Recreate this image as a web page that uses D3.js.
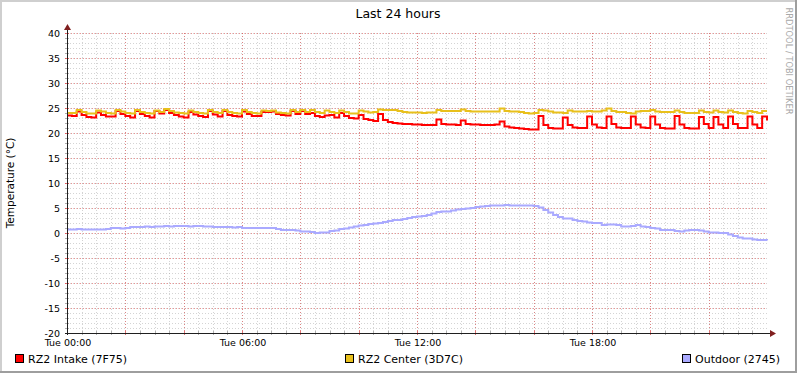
<!DOCTYPE html>
<html>
<head>
<meta charset="utf-8">
<script src="https://cdn.jsdelivr.net/npm/d3@7"></script>
<style>
  body { margin: 0; background: #fff; }
  text { font-family: "DejaVu Sans", sans-serif; }
</style>
</head>
<body>
<div id="canvas"></div>
<script>
// samples every 10 minutes, Tue 00:00 .. Wed 00:00
const stepMinutes = 10;
const startTime = new Date(2024, 0, 2, 0, 0);

const seriesNames = ["RZ2 Intake (7F75)", "RZ2 Center (3D7C)", "Outdoor (2745)"];

const intake = [23.5,23.4,24.3,23.6,23.2,23.1,24.1,23.6,23.3,23.3,
  24.4,23.8,23.4,23.1,24.4,23.8,23.4,23.1,24.4,23.9,
  24.6,24.0,23.6,23.3,23.1,24.2,23.7,23.4,23.2,24.4,
  23.7,23.3,24.4,23.6,23.4,23.3,24.3,23.8,23.4,23.4,
  24.2,24.2,24.3,23.8,23.6,23.5,24.4,23.8,24.4,23.8,
  24.0,23.4,23.2,23.5,23.6,23.1,24.0,23.4,23.0,22.9,
  23.6,22.8,22.6,22.4,23.8,22.6,22.2,22.0,21.9,21.8,
  21.8,21.7,21.7,21.6,21.6,21.6,22.7,21.8,21.7,21.7,
  21.6,22.5,21.8,21.7,21.7,21.6,21.6,21.6,21.7,22.3,
  21.3,21.1,21.0,20.9,20.8,20.7,20.7,23.4,21.6,21.0,
  20.9,20.9,23.1,21.6,21.1,21.0,21.0,23.3,21.7,21.1,
  21.0,23.3,21.8,21.1,21.0,21.0,23.3,21.7,21.1,21.0,
  23.3,21.7,21.0,20.9,20.9,23.4,21.7,21.0,20.9,20.9,
  23.2,21.8,21.0,23.2,21.7,21.0,23.3,21.8,21.0,21.0,
  23.3,21.7,21.0,23.3,22.5];

const center = [24.0,24.0,24.6,24.2,23.9,23.9,24.5,24.3,24.0,23.9,
  24.6,24.3,24.0,23.9,24.6,24.2,24.0,23.9,24.5,24.2,
  24.8,24.4,24.1,24.0,23.9,24.5,24.2,24.0,23.9,24.6,
  24.2,24.0,24.6,24.2,24.0,23.9,24.6,24.2,24.0,23.9,
  24.5,24.4,24.5,24.1,24.0,23.9,24.6,24.2,24.6,24.2,
  24.6,24.2,24.0,24.5,24.2,24.0,24.5,24.2,23.9,23.9,
  24.5,24.3,24.1,24.2,24.7,24.6,24.6,24.6,24.4,24.2,
  24.1,24.1,24.1,24.0,24.1,24.1,24.6,24.4,24.4,24.4,
  24.4,24.7,24.4,24.3,24.3,24.3,24.3,24.3,24.3,24.9,
  24.4,24.3,24.3,24.2,24.0,23.9,24.0,24.6,24.5,24.3,
  24.1,24.1,24.0,24.5,24.3,24.3,24.3,24.4,24.3,24.3,
  24.5,24.9,24.4,24.2,24.2,24.0,23.9,24.3,24.4,24.4,
  24.6,24.3,24.2,24.2,24.2,24.5,24.2,24.0,24.0,24.0,
  24.5,24.2,24.1,24.5,24.2,24.1,24.5,24.2,24.0,23.9,
  24.4,24.2,24.0,24.4,24.4];

const outdoor = [0.7,0.7,0.8,0.7,0.7,0.7,0.7,0.7,0.8,1.0,
  1.0,0.9,1.0,1.2,1.2,1.2,1.3,1.2,1.3,1.3,
  1.4,1.3,1.4,1.4,1.4,1.3,1.4,1.4,1.3,1.3,
  1.2,1.2,1.2,1.2,1.1,1.2,1.0,1.0,1.0,1.0,
  1.0,1.0,1.0,0.8,0.6,0.6,0.6,0.5,0.3,0.3,
  0.2,0.0,0.1,0.1,0.4,0.5,0.8,0.9,1.1,1.3,
  1.5,1.6,1.8,1.9,2.0,2.2,2.4,2.6,2.6,2.8,
  3.0,3.2,3.3,3.4,3.6,3.9,4.2,4.3,4.3,4.5,
  4.7,4.8,4.9,5.0,5.2,5.3,5.4,5.5,5.5,5.5,
  5.6,5.5,5.5,5.5,5.5,5.5,5.4,5.1,4.6,4.1,
  3.6,3.2,2.9,2.9,2.6,2.4,2.3,2.1,2.0,2.0,
  1.6,1.7,1.7,1.6,1.3,1.3,1.4,1.6,1.3,1.2,
  1.0,0.9,0.6,0.6,0.6,0.4,0.3,0.5,0.6,0.6,
  0.5,0.3,0.1,0.1,0.0,0.0,-0.3,-0.6,-0.9,-1.1,
  -1.1,-1.3,-1.4,-1.4,-1.5];

const yTicks = [-20,-15,-10,-5,0,5,10,15,20,25,30,35,40];
const colors = ["#ff0000", "#e8c01c", "#aaaaff"];

const width = 797;
const height = 373;
const margin = { top: 33, left: 67, bottom: 40, right: 30 };
const iwidth = width - margin.left - margin.right;   // 700
const iheight = height - margin.top - margin.bottom; // 300

const svg = d3.select("#canvas").append("svg")
  .attr("width", width)
  .attr("height", height);

// background + 3D frame
svg.append("rect").attr("width", width).attr("height", height).attr("fill", "#ffffff");
svg.append("rect").attr("x", 0).attr("y", 0).attr("width", width).attr("height", 2).attr("fill", "#cfcfcf");
svg.append("rect").attr("x", 0).attr("y", 0).attr("width", 2).attr("height", height).attr("fill", "#cfcfcf");
svg.append("rect").attr("x", width - 2).attr("y", 0).attr("width", 2).attr("height", height).attr("fill", "#9e9e9e");
svg.append("rect").attr("x", 0).attr("y", height - 2).attr("width", width).attr("height", 2).attr("fill", "#9e9e9e");

const times = intake.map((d, i) => new Date(startTime.getTime() + i * stepMinutes * 60000));
const endTime = new Date(startTime.getTime() + 24 * 3600000);

const x = d3.scaleTime().domain([startTime, endTime]).range([0, iwidth]);
const y = d3.scaleLinear().domain([-20, 40]).range([iheight, 0]);

const g = svg.append("g").attr("transform", `translate(${margin.left},${margin.top})`);

// grid
const minorX = d3.timeMinute.every(30).range(startTime, endTime);
const majorX = d3.timeHour.every(2).range(startTime, endTime);
const minorY = d3.range(-20, 41, 1);
const gridGray = "rgba(160,160,160,0.45)";
const gridRed = "rgba(222,79,79,0.6)";

const grid = g.append("g").attr("shape-rendering", "crispEdges");
grid.selectAll(".vmin").data(minorX).enter().append("line")
  .attr("x1", d => Math.round(x(d)) + 0.5).attr("x2", d => Math.round(x(d)) + 0.5)
  .attr("y1", 0).attr("y2", iheight)
  .attr("stroke", gridGray).attr("stroke-dasharray", "1,2");
grid.selectAll(".hmin").data(minorY).enter().append("line")
  .attr("x1", 0).attr("x2", iwidth)
  .attr("y1", d => y(d) + 0.5).attr("y2", d => y(d) + 0.5)
  .attr("stroke", gridGray).attr("stroke-dasharray", "1,2");
grid.selectAll(".vmaj").data(majorX).enter().append("line")
  .attr("x1", d => Math.round(x(d)) + 0.5).attr("x2", d => Math.round(x(d)) + 0.5)
  .attr("y1", 0).attr("y2", iheight + 2)
  .attr("stroke", gridRed).attr("stroke-dasharray", "1,2");
grid.selectAll(".hmaj").data(yTicks).enter().append("line")
  .attr("x1", -2).attr("x2", iwidth)
  .attr("y1", d => y(d) + 0.5).attr("y2", d => y(d) + 0.5)
  .attr("stroke", gridRed).attr("stroke-dasharray", "1,2");

// axis tick marks
g.selectAll(".xt").data(minorX).enter().append("line")
  .attr("x1", d => Math.round(x(d)) + 0.5).attr("x2", d => Math.round(x(d)) + 0.5)
  .attr("y1", iheight - 2).attr("y2", iheight + 2)
  .attr("stroke", d => d.getMinutes() === 0 && d.getHours() % 2 === 0 ? "rgba(222,79,79,0.8)" : "rgba(143,143,143,0.7)")
  .attr("shape-rendering", "crispEdges");
g.selectAll(".yt").data(minorY).enter().append("line")
  .attr("x1", -2).attr("x2", 2)
  .attr("y1", d => y(d) + 0.5).attr("y2", d => y(d) + 0.5)
  .attr("stroke", d => d % 5 === 0 ? "rgba(222,79,79,0.8)" : "rgba(143,143,143,0.7)")
  .attr("shape-rendering", "crispEdges");

// series
const line = d3.line()
  .x((d, i) => x(times[i]))
  .y(d => y(d))
  .curve(d3.curveStepAfter);

[intake, center, outdoor].forEach((s, k) => {
  g.append("path")
    .datum(s)
    .attr("d", line)
    .attr("fill", "none")
    .attr("stroke", colors[k])
    .attr("stroke-width", 2);
});

// axes with arrows
g.append("line").attr("x1", 0.5).attr("x2", 0.5).attr("y1", iheight + 2).attr("y2", -4)
  .attr("stroke", "#1f1f1f").attr("shape-rendering", "crispEdges");
g.append("line").attr("x1", -2).attr("x2", iwidth + 4).attr("y1", iheight + 0.5).attr("y2", iheight + 0.5)
  .attr("stroke", "#1f1f1f").attr("shape-rendering", "crispEdges");
g.append("path").attr("d", "M-3,-3 L4,-3 L0.5,-9 Z").attr("fill", "#801f1f");
g.append("path").attr("d", `M${iwidth + 3},${iheight - 3} L${iwidth + 3},${iheight + 4} L${iwidth + 9},${iheight + 0.5} Z`).attr("fill", "#801f1f");

// tick labels
g.selectAll(".ylab").data(yTicks).enter().append("text")
  .attr("x", -7).attr("y", d => y(d) + 3.5)
  .attr("text-anchor", "end").attr("font-size", 9.5)
  .text(d => d);

const xLabels = d3.timeHour.every(6).range(startTime, endTime);
g.selectAll(".xlab").data(xLabels).enter().append("text")
  .attr("x", d => x(d) + 1).attr("y", iheight + 13)
  .attr("text-anchor", "middle").attr("font-size", 9.5)
  .text(d3.timeFormat("%a %H:%M"));

// title, y label, watermark
svg.append("text").attr("x", 398).attr("y", 18).attr("text-anchor", "middle")
  .attr("font-size", 12.5).text("Last 24 hours");
svg.append("text").attr("transform", "translate(14,183) rotate(-90)")
  .attr("text-anchor", "middle").attr("font-size", 10.5).text("Temperature (°C)");
svg.append("text").attr("transform", "translate(786,61) rotate(90)")
  .attr("text-anchor", "middle").attr("font-size", 8.3).attr("fill", "#a8a8a8")
  .text("RRDTOOL / TOBI OETIKER");

// legend
const legendX = [15, 345, 682];
const legend = svg.selectAll(".leg").data(seriesNames).enter().append("g")
  .attr("transform", (d, i) => `translate(${legendX[i]},354)`);
legend.append("rect").attr("x", 0.5).attr("y", 0.5).attr("width", 8).attr("height", 8)
  .attr("fill", (d, i) => colors[i]).attr("stroke", "#000").attr("stroke-width", 1);
legend.append("text").attr("x", 13).attr("y", 8.5).attr("font-size", 11).text(d => d);
</script>
</body>
</html>
